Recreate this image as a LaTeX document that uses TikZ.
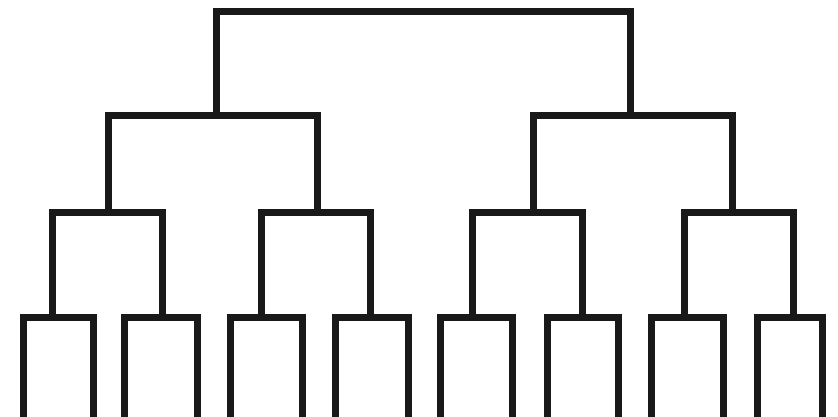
\documentclass[tikz,border=0pt]{standalone}
\begin{document}
\begin{tikzpicture}[x=1pt,y=-1pt,link/.style={line width=7pt,line join=miter,draw=black!90}]
\useasboundingbox (0,0) rectangle (838,417);
% leaves
\foreach \i/\x in {1/23,2/93,3/124,4/197,5/230,6/302,7/335,8/408,9/440,10/512,11/547,12/618,13/651,14/723,15/757,16/822}
  \coordinate (l\i) at (\x,430);
% level 4 junctions
\foreach \i/\x in {1/52,2/162,3/261,4/370,5/472,6/582,7/684,8/793}
  \coordinate (p\i) at (\x,317);
% level 3 junctions
\foreach \i/\x in {1/108,2/317,3/533,4/732}
  \coordinate (q\i) at (\x,212);
\coordinate (r1) at (216,116);
\coordinate (r2) at (630,116);
\coordinate (root) at (423,12);
% leaf pairs
\draw[link] (l1) |- (p1) -| (l2);
\draw[link] (l3) |- (p2) -| (l4);
\draw[link] (l5) |- (p3) -| (l6);
\draw[link] (l7) |- (p4) -| (l8);
\draw[link] (l9) |- (p5) -| (l10);
\draw[link] (l11) |- (p6) -| (l12);
\draw[link] (l13) |- (p7) -| (l14);
\draw[link] (l15) |- (p8) -| (l16);
% level 3
\draw[link] (p1) |- (q1) -| (p2);
\draw[link] (p3) |- (q2) -| (p4);
\draw[link] (p5) |- (q3) -| (p6);
\draw[link] (p7) |- (q4) -| (p8);
% level 2
\draw[link] (q1) |- (r1) -| (q2);
\draw[link] (q3) |- (r2) -| (q4);
% root
\draw[link] (r1) |- (root) -| (r2);
\end{tikzpicture}
\end{document}
